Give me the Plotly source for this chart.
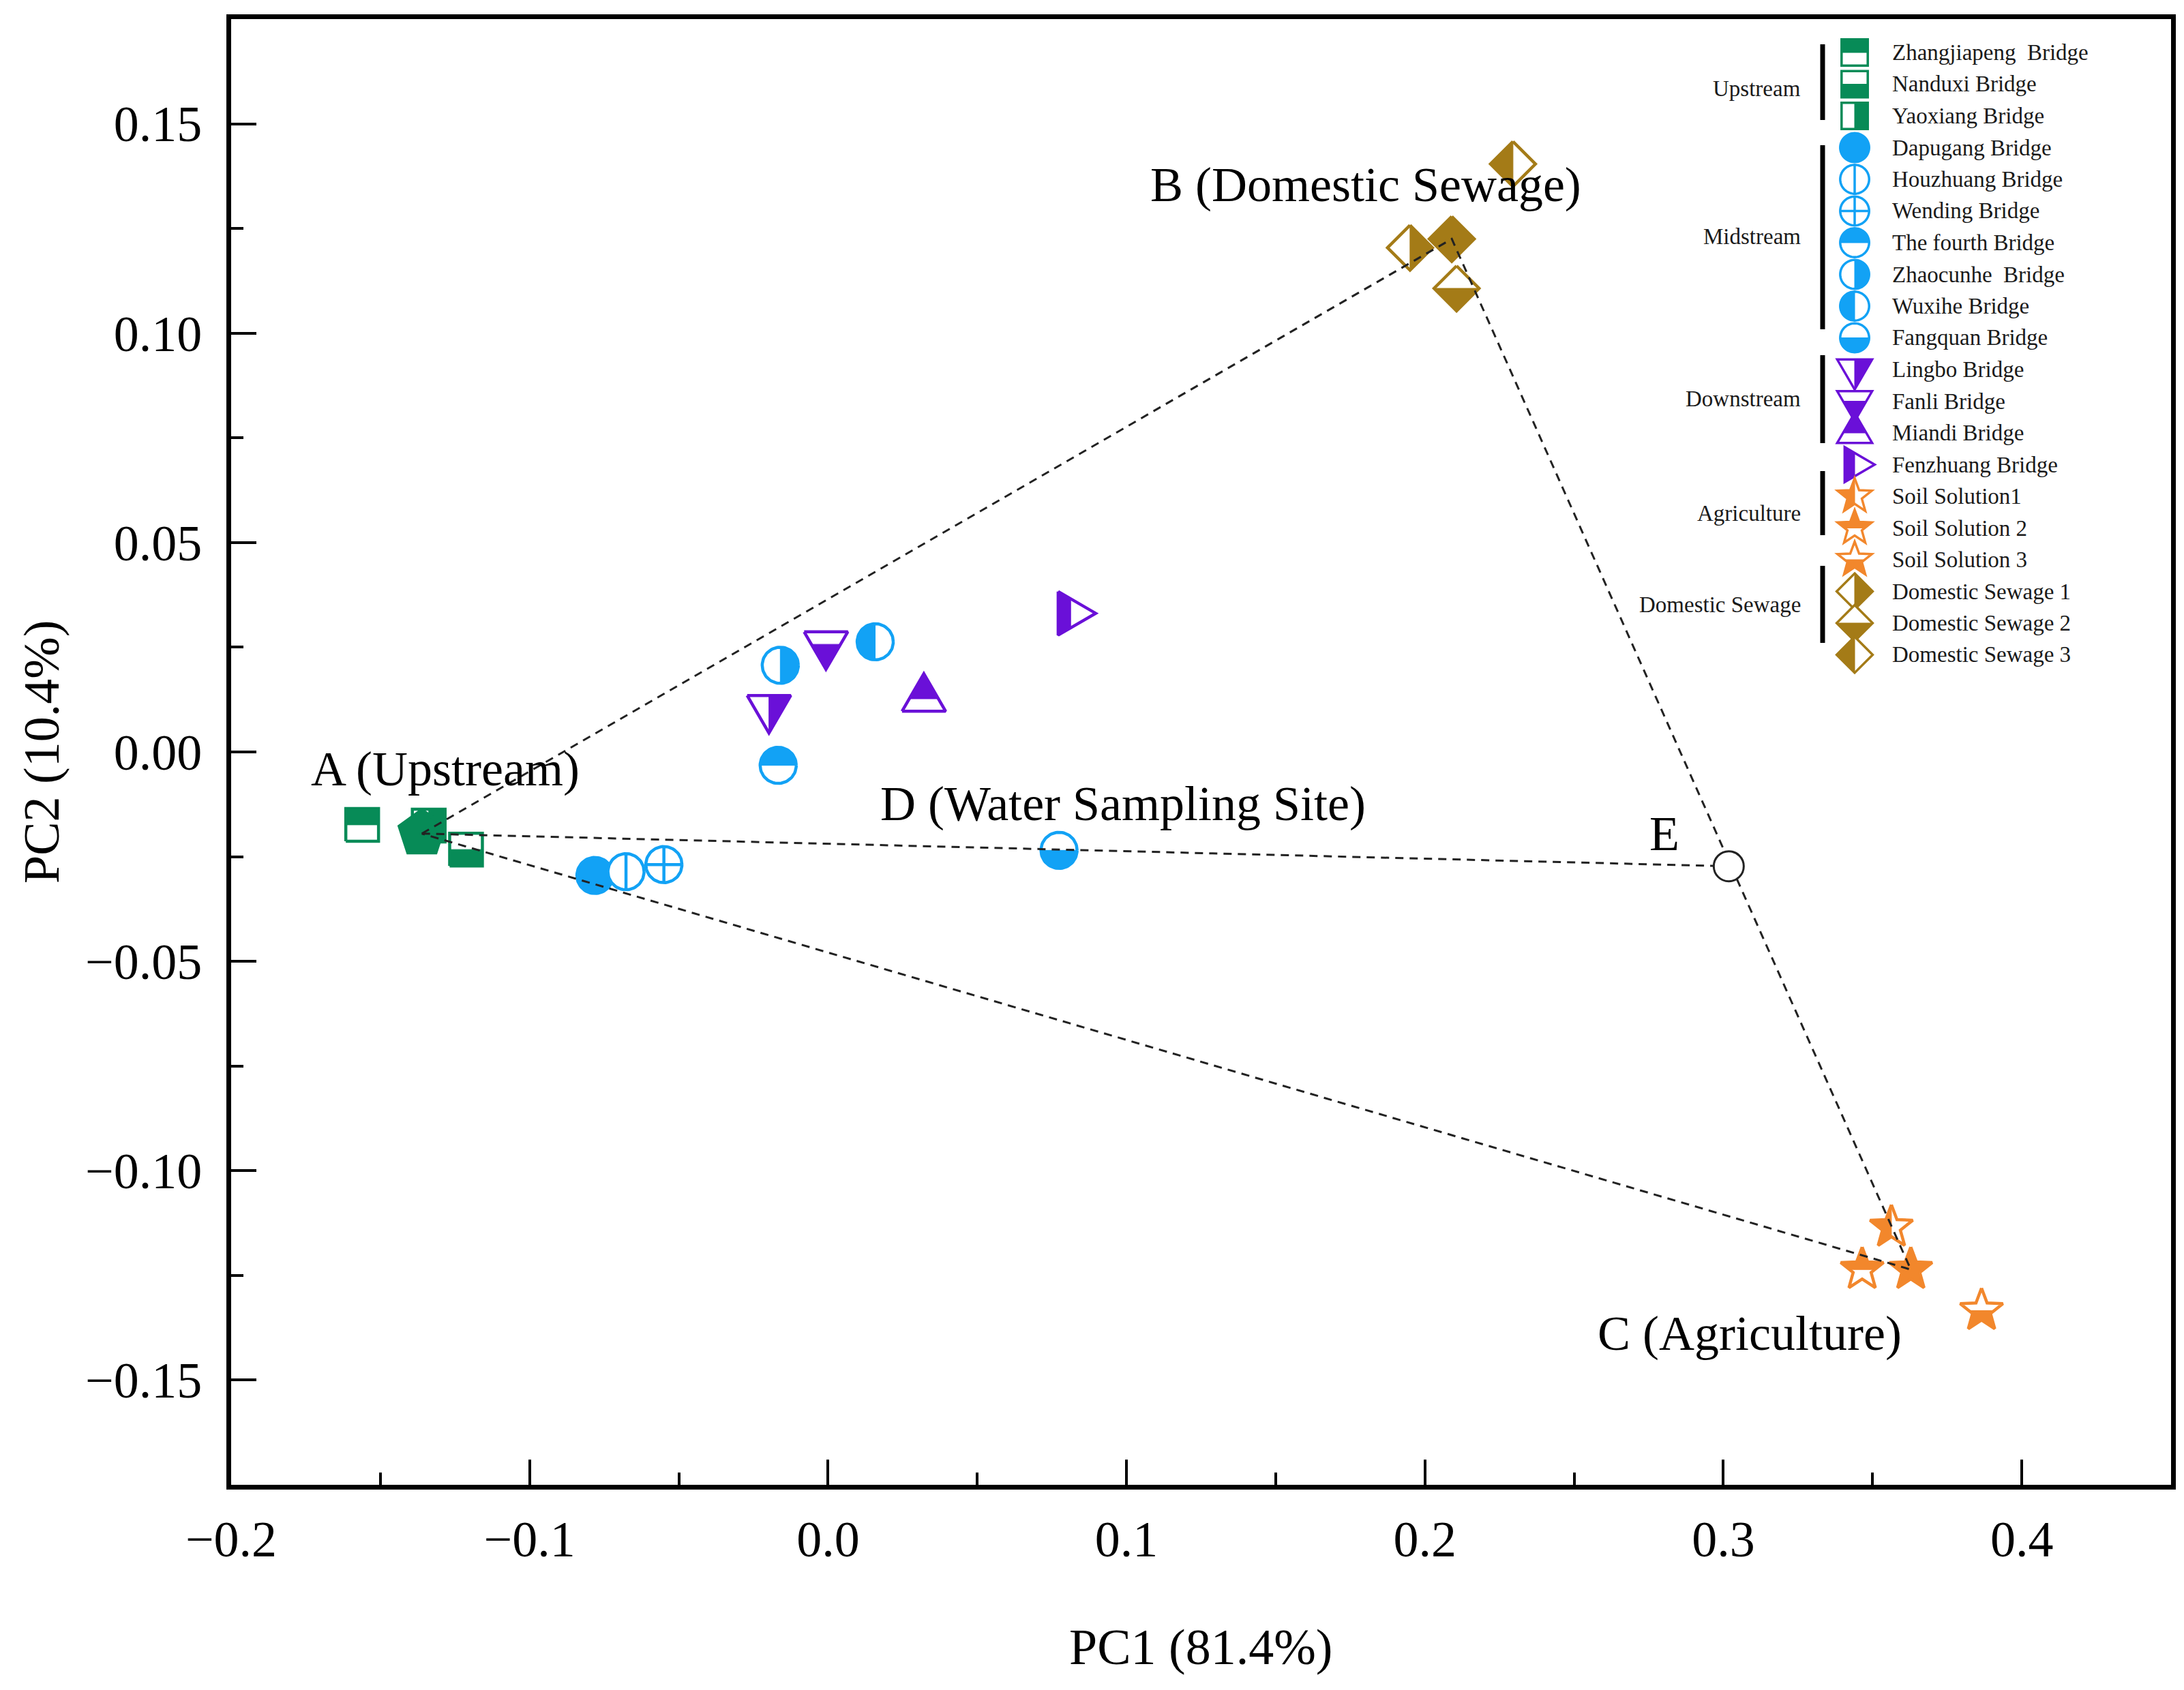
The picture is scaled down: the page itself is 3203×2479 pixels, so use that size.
import numpy as np
import plotly.graph_objects as go

# ---- data (PC scores) ----
up_names = ["Zhangjiapeng\u00a0 Bridge", "Nanduxi Bridge", "Yaoxiang Bridge"]
up_pc1 = [-0.1561, -0.1213, -0.1338]
up_pc2 = [-0.0174, -0.0233, -0.0176]

mid_names = ["Dapugang Bridge", "Houzhuang Bridge", "Wending Bridge", "The fourth Bridge",
             "Zhaocunhe\u00a0 Bridge", "Wuxihe Bridge", "Fangquan Bridge"]
mid_pc1 = [-0.0781, -0.0677, -0.0550, -0.0167, -0.0160, 0.0158, 0.0774]
mid_pc2 = [-0.0295, -0.0286, -0.0269, -0.0032, 0.0207, 0.0263, -0.0235]

down_names = ["Lingbo Bridge", "Fanli Bridge", "Miandi Bridge", "Fenzhuang Bridge"]
down_pc1 = [-0.0198, -0.0007, 0.0321, 0.0813]
down_pc2 = [0.0105, 0.0257, 0.0127, 0.0331]

agri_names = ["Soil Solution1", "Soil Solution 2", "Soil Solution 3"]
agri_pc1 = [0.3563, 0.3465, 0.3865]
agri_pc2 = [-0.1135, -0.1236, -0.1334]

sew_names = ["Domestic Sewage 1", "Domestic Sewage 2", "Domestic Sewage 3"]
sew_pc1 = [0.1950, 0.2106, 0.2295]
sew_pc2 = [0.1204, 0.1107, 0.1404]

# end-members A, B, C and point E
end_labels = ["A", "B", "C", "E"]
end_pc1 = [-0.1361, 0.2090, 0.3628, 0.3018]
end_pc2 = [-0.0195, 0.1225, -0.1236, -0.0273]

group_labels = ["Upstream", "Midstream", "Downstream", "Agriculture", "Domestic Sewage"]

# ---- styles ----
GREEN, BLUE, PURPLE, ORANGE, BROWN = "#078b57", "#12a2f5", "#6a10d8", "#f2872c", "#a47b17"
FONT = "Liberation Serif"

up_style = [("square", "top"), ("square", "bottom"), ("square", "right")]
mid_style = [("circle", "full"), ("circle", "vline"), ("circle", "cross"), ("circle", "top"),
             ("circle", "right"), ("circle", "left"), ("circle", "bottom")]
down_style = [("tri_down", "right"), ("tri_down", "bottom"), ("tri_up", "top"), ("tri_right", "left")]
agri_style = [("star", "left"), ("star", "top"), ("star", "bottom")]
sew_style = [("diamond", "right"), ("diamond", "bottom"), ("diamond", "left")]

SIZE = {"square": 24, "circle": 26.5, "tri_down": 32, "tri_up": 32, "tri_right": 32,
        "star": 33, "diamond": 33, "pentagon": 35}

# page geometry: the html body has an 8 px margin, so the figure sits at (8, 8)
OFF = 8
WIN_W, WIN_H = 3203, 2479
BOX_L, BOX_R, BOX_T, BOX_B = 339, 3184, 28, 2178      # plot box in window pixels
W, H = WIN_W - OFF, WIN_H - OFF
ML, MT = BOX_L - OFF, BOX_T - OFF
MR, MB = W - (BOX_R - OFF), H - (BOX_B - OFF)
PW, PH = BOX_R - BOX_L, BOX_B - BOX_T
X_RANGE = [-0.2, 0.45]
Y_RANGE = [-0.175, 0.175]
PX_X = PW / (X_RANGE[1] - X_RANGE[0])
PX_Y = PH / (Y_RANGE[1] - Y_RANGE[0])


def paper(px, py):
    return (px - BOX_L) / PW, (BOX_B - py) / PH


def outline(kind, r):
    if kind == "square":
        return [(-r, -r), (r, -r), (r, r), (-r, r)]
    if kind == "circle":
        t = np.linspace(0, 2 * np.pi, 73)[:-1]
        return list(zip(r * np.cos(t), r * np.sin(t)))
    if kind == "diamond":
        return [(0, r), (r, 0), (0, -r), (-r, 0)]
    if kind == "tri_down":
        h = 1.72 * r
        return [(-r, h / 3), (r, h / 3), (0, -2 * h / 3)]
    if kind == "tri_up":
        h = 1.72 * r
        return [(-r, -h / 3), (r, -h / 3), (0, 2 * h / 3)]
    if kind == "tri_right":
        h = 1.72 * r
        return [(-h / 3, r), (-h / 3, -r), (2 * h / 3, 0)]
    if kind == "star":
        a = np.deg2rad(90 + 36 * np.arange(10))
        rad = np.where(np.arange(10) % 2 == 0, r, 0.42 * r)
        return list(zip(rad * np.cos(a), rad * np.sin(a)))
    if kind == "pentagon":
        a = np.deg2rad(90 + 72 * np.arange(5))
        return list(zip(r * np.cos(a), r * np.sin(a)))


HALF = {"top": lambda p: p[1], "bottom": lambda p: -p[1],
        "left": lambda p: -p[0], "right": lambda p: p[0]}


def clip(poly, keep):
    out = []
    n = len(poly)
    for i in range(n):
        p, q = poly[i], poly[(i + 1) % n]
        fp, fq = keep(p), keep(q)
        if fp >= 0:
            out.append(p)
        if (fp >= 0) != (fq >= 0):
            t = fp / (fp - fq)
            out.append((p[0] + t * (q[0] - p[0]), p[1] + t * (q[1] - p[1])))
    return out


def glyph_parts(kind, fill, r):
    poly = outline(kind, r)
    if fill == "full":
        return poly, [poly], []
    if fill in HALF:
        return poly, [clip(poly, HALF[fill])], []
    if fill == "vline":
        return poly, [], [[(0, -r), (0, r)]]
    if fill == "cross":
        return poly, [], [[(0, -r), (0, r)], [(-r, 0), (r, 0)]]
    return poly, [], []


def add_glyph(fig, x0, y0, kind, fill, color, lw=4.5):
    poly, fills, lines = glyph_parts(kind, fill, SIZE[kind])

    def xy(pts, close=True):
        pts = list(pts) + ([pts[0]] if close else [])
        return [x0 + p[0] / PX_X for p in pts], [y0 + p[1] / PX_Y for p in pts]

    common = dict(mode="lines", hoverinfo="skip", showlegend=False)
    if fill != "full":
        xs, ys = xy(poly)
        fig.add_trace(go.Scatter(x=xs, y=ys, fill="toself", fillcolor="white",
                                 line=dict(color=color, width=lw), **common))
    for f in fills:
        xs, ys = xy(f)
        fig.add_trace(go.Scatter(x=xs, y=ys, fill="toself", fillcolor=color,
                                 line=dict(color=color, width=lw if fill == "full" else 1), **common))
    for seg in lines:
        xs, ys = xy(seg, close=False)
        fig.add_trace(go.Scatter(x=xs, y=ys, line=dict(color=color, width=lw), **common))


def legend_shapes(px, py, kind, fill, color, scale=0.8, lw=3.5):
    cx, cy = paper(px, py)
    poly, fills, lines = glyph_parts(kind, fill, SIZE[kind] * scale)

    def path(pts, close=True):
        s = " L ".join(f"{cx + p[0] / PW:.5f},{cy + p[1] / PH:.5f}" for p in pts)
        return "M " + s + (" Z" if close else "")

    out = []
    if fill != "full":
        out.append(dict(type="path", path=path(poly), xref="paper", yref="paper",
                        fillcolor="white", line=dict(color=color, width=lw)))
    for f in fills:
        out.append(dict(type="path", path=path(f), xref="paper", yref="paper",
                        fillcolor=color, line=dict(color=color, width=lw if fill == "full" else 1)))
    for seg in lines:
        out.append(dict(type="path", path=path(seg, False), xref="paper", yref="paper",
                        line=dict(color=color, width=lw)))
    return out


fig = go.Figure()

groups = [
    (up_names, up_pc1, up_pc2, up_style, GREEN),
    (mid_names, mid_pc1, mid_pc2, mid_style, BLUE),
    (down_names, down_pc1, down_pc2, down_style, PURPLE),
    (agri_names, agri_pc1, agri_pc2, agri_style, ORANGE),
    (sew_names, sew_pc1, sew_pc2, sew_style, BROWN),
]

# sample points, with end-member markers drawn right after their group
for gi, (names, xs, ys, style, color) in enumerate(groups):
    for x, y, (kind, fill) in zip(xs, ys, style):
        add_glyph(fig, x, y, kind, fill, color)
    if gi == 0:
        add_glyph(fig, end_pc1[0], end_pc2[0], "pentagon", "full", GREEN)
    if gi == 3:
        add_glyph(fig, end_pc1[2], end_pc2[2], "star", "full", ORANGE)
    if gi == 4:
        add_glyph(fig, end_pc1[1], end_pc2[1], "diamond", "full", BROWN)

# mixing triangle A-B-C and line A-E
A, B, C, E = [(end_pc1[i], end_pc2[i]) for i in range(4)]
lx = [A[0], B[0], C[0], A[0], None, A[0], E[0]]
ly = [A[1], B[1], C[1], A[1], None, A[1], E[1]]
fig.add_trace(go.Scatter(x=lx, y=ly, mode="lines", hoverinfo="skip", showlegend=False,
                         line=dict(color="#222222", width=3, dash="12px,9px")))

# point E
fig.add_trace(go.Scatter(x=[E[0]], y=[E[1]], mode="markers", hoverinfo="skip", showlegend=False,
                         marker=dict(symbol="circle", size=44, color="white",
                                     line=dict(color="#222222", width=3))))

# ---- custom legend ----
shapes = []
annotations = []
LEG_Y0, LEG_DY = 77, 46.5
LEG_MX, LEG_TX, LEG_BAR, LEG_GX = 2720, 2773, 2673, 2643
row = 0
for names, xs, ys, style, color in groups:
    for name, (kind, fill) in zip(names, style):
        py = LEG_Y0 + row * LEG_DY
        shapes += legend_shapes(LEG_MX, py, kind, fill, color)
        tx, ty = paper(LEG_TX, py)
        annotations.append(dict(x=tx, y=ty, xref="paper", yref="paper", text=name,
                                showarrow=False, xanchor="left", yanchor="middle",
                                font=dict(family=FONT, size=33, color="#1a1a1a")))
        row += 1

bar_spans = [(65, 176), (213, 483), (521, 650), (691, 785), (830, 943)]
label_ys = [130, 347, 585, 753, 887]
for label, (y0, y1), ly_ in zip(group_labels, bar_spans, label_ys):
    bx, by0 = paper(LEG_BAR, y0)
    _, by1 = paper(LEG_BAR, y1)
    shapes.append(dict(type="line", xref="paper", yref="paper", x0=bx, x1=bx, y0=by0, y1=by1,
                       line=dict(color="black", width=7)))
    gx, gy = paper(LEG_GX, ly_)
    annotations.append(dict(x=gx, y=gy, xref="paper", yref="paper", text=label,
                            showarrow=False, xanchor="right", yanchor="middle",
                            font=dict(family=FONT, size=33, color="#1a1a1a")))

# ---- point labels ----
point_texts = ["A (Upstream)", "B (Domestic Sewage)", "D (Water Sampling Site)", "E", "C (Agriculture)"]
text_pos = [(653, 1128), (2003, 271), (1647, 1179), (2441, 1223), (2566, 1956)]
for t, (px, py) in zip(point_texts, text_pos):
    ax_, ay_ = paper(px, py)
    annotations.append(dict(x=ax_, y=ay_, xref="paper", yref="paper", text=t, showarrow=False,
                            xanchor="center", yanchor="middle",
                            font=dict(family=FONT, size=72, color="black")))

# axis titles
tx, ty = paper(1761, 2416)
annotations.append(dict(x=tx, y=ty, xref="paper", yref="paper", text="PC1 (81.4%)", showarrow=False,
                        xanchor="center", yanchor="middle", font=dict(family=FONT, size=74, color="black")))
tx, ty = paper(61, 1103)
annotations.append(dict(x=tx, y=ty, xref="paper", yref="paper", text="PC2 (10.4%)", showarrow=False,
                        textangle=-90, xanchor="center", yanchor="middle",
                        font=dict(family=FONT, size=74, color="black")))

axis_common = dict(showline=True, linecolor="black", linewidth=7, mirror=True,
                   showgrid=False, zeroline=False, ticks="inside", ticklen=37, tickwidth=4,
                   tickcolor="black", tickfont=dict(family=FONT, size=74, color="black"))

fig.update_layout(
    width=W, height=H,
    margin=dict(l=ML, r=MR, t=MT, b=MB),
    plot_bgcolor="white", paper_bgcolor="white",
    xaxis=dict(range=X_RANGE, tick0=0, dtick=0.1, tickformat=".1f", ticklabelstandoff=9,
               minor=dict(ticks="inside", ticklen=18, tickwidth=4, tickcolor="black", dtick=0.05, tick0=0),
               **axis_common),
    yaxis=dict(range=Y_RANGE, tick0=0, dtick=0.05, tickformat=".2f", ticklabelstandoff=21,
               minor=dict(ticks="inside", ticklen=18, tickwidth=4, tickcolor="black", dtick=0.025, tick0=0),
               **axis_common),
    shapes=shapes,
    annotations=annotations,
    showlegend=False,
)

fig.write_html("out.html")
